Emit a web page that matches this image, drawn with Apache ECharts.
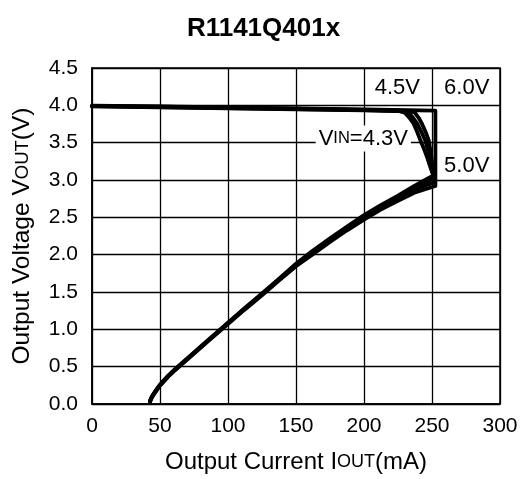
<!DOCTYPE html>
<html>
<head>
<meta charset="utf-8">
<script src="https://cdn.jsdelivr.net/npm/echarts@6/dist/echarts.min.js"></script>
<style>html,body{margin:0;padding:0;background:#fff}#c{width:527px;height:479px}</style>
</head>
<body>
<div id="c"></div>
<script>
// X ticks (mA) and Y ticks (V)
var xTicks = [0, 50, 100, 150, 200, 250, 300];
var yTicks = [0.0, 0.5, 1.0, 1.5, 2.0, 2.5, 3.0, 3.5, 4.0, 4.5];

// Curves: [Iout (mA), Vout (V)] in drawing order (flat -> drop -> fold back)
var vin43 = [[0,3.985],[50,3.973],[100,3.96],[150,3.947],[200,3.932],[226,3.922],
  [230,3.9],[233.5,3.83],[236.6,3.75],[239.2,3.64],[241.5,3.53],[244,3.42],[246.3,3.31],[248.3,3.2],[250,3.11],[251,3.06],
  [237,2.92],[225,2.79],[212,2.66],[200,2.53],[187,2.37],[175,2.22],[162,2.05],[150,1.88],[137,1.67],[125,1.48],
  [112,1.28],[100,1.09],[85,0.85],[75,0.69],[70,0.61],[65,0.53],[60,0.45],[56,0.38],[53,0.32],[50,0.26],
  [48,0.21],[46.5,0.17],[45,0.13],[44,0.1],[43,0.06],[42.5,0.02]];
var vin45 = [[0,3.989],[50,3.977],[100,3.964],[150,3.951],[200,3.936],[230,3.924],
  [233,3.9],[236.2,3.83],[239,3.76],[242.2,3.645],[245,3.53],[246.8,3.42],[248.3,3.31],[249.6,3.2],[250.5,3.1],[251.2,3.02],
  [237,2.9],[225,2.77],[212,2.64],[200,2.51],[187,2.36],[175,2.21],[162,2.04],[150,1.87],[137,1.665],[125,1.475],
  [112,1.275],[100,1.085],[85,0.845],[75,0.685],[70,0.605],[65,0.525],[60,0.445],[56,0.375],[53,0.315],[50,0.255],
  [48,0.205],[46.5,0.165],[45,0.125],[44,0.095],[43,0.055],[42.5,0.02]];
var vin50 = [[0,3.993],[50,3.981],[100,3.968],[150,3.955],[200,3.94],[234,3.926],
  [237.5,3.9],[240.3,3.83],[242.7,3.75],[245.4,3.64],[247.6,3.53],[248.6,3.42],[249.5,3.31],[250.3,3.2],[251,3.1],[251.8,2.97],
  [237,2.87],[225,2.75],[212,2.62],[200,2.49],[187,2.34],[175,2.19],[162,2.02],[150,1.855],[137,1.655],[125,1.465],
  [112,1.27],[100,1.08],[85,0.84],[75,0.68],[70,0.6],[65,0.52],[60,0.44],[56,0.37],[53,0.31],[50,0.25],
  [48,0.2],[46.5,0.16],[45,0.12],[44,0.09],[43,0.05],[42.5,0.02]];
var vin60 = [[0,3.997],[50,3.985],[100,3.972],[150,3.959],[200,3.944],[252.5,3.928],
  [252.5,2.92],
  [237,2.83],[225,2.72],[212,2.6],[200,2.47],[187,2.32],[175,2.17],[162,2.0],[150,1.845],[137,1.645],[125,1.455],
  [112,1.26],[100,1.07],[85,0.835],[75,0.675],[70,0.595],[65,0.515],[60,0.435],[56,0.365],[53,0.305],[50,0.245],
  [48,0.195],[46.5,0.155],[45,0.115],[44,0.085],[43,0.045],[42.5,0.02]];

// Annotation texts and anchor values
var labels = [
  {text: '4.5V', at: [224.5, 4.23]},
  {text: '6.0V', at: [275.5, 4.23]},
  {text: 'V{s|IN}=4.3V', at: [199.5, 3.555], bg: true},
  {text: '5.0V', at: [275.5, 3.19]}
];

var FONT = 'Liberation Sans, Arial, sans-serif';
var chart = echarts.init(document.getElementById('c'), null, {renderer: 'canvas'});

function curve(name, data, withLabels) {
  var s = {
    name: name, type: 'line', data: data, symbol: 'none', smooth: false,
    lineStyle: {color: '#000', width: 3.8, join: 'round', cap: 'round'},
    z: 3, animation: false
  };
  if (withLabels) {
    s.markPoint = {
      symbol: 'rect', symbolSize: 1,
      itemStyle: {color: 'rgba(0,0,0,0)'},
      data: labels.map(function (l) {
        return {
          coord: l.at,
          label: {
            show: true, position: 'inside', formatter: l.text,
            fontFamily: FONT, fontSize: 22, color: '#000',
            backgroundColor: l.bg ? '#fff' : 'transparent',
            padding: l.bg ? [2, 3, 2, 3] : 0,
            rich: {s: {fontFamily: FONT, fontSize: 16.5, color: '#000'}}
          }
        };
      }),
      z: 10, animation: false
    };
  }
  return s;
}

chart.setOption({
  backgroundColor: '#fff',
  animation: false,
  title: {
    text: 'R1141Q401x', left: 'center', top: 16, padding: 0,
    textStyle: {fontFamily: FONT, fontSize: 26, fontWeight: 'bold', color: '#000'}
  },
  grid: {left: 92, right: 27, top: 68, bottom: 73, show: true, borderColor: '#000', borderWidth: 1.5, containLabel: false},
  xAxis: {
    type: 'value', min: xTicks[0], max: xTicks[xTicks.length - 1], interval: 50,
    name: 'Output Current I{s|OUT}(mA)', nameLocation: 'middle', nameGap: 46,
    nameTextStyle: {fontFamily: FONT, fontSize: 24, color: '#000',
      rich: {s: {fontFamily: FONT, fontSize: 18, color: '#000'}}},
    axisLine: {show: true, lineStyle: {color: '#000', width: 1.5}},
    axisTick: {show: false},
    axisLabel: {fontFamily: FONT, fontSize: 21, color: '#000', margin: 12},
    splitLine: {show: true, lineStyle: {color: '#000', width: 1.3}}
  },
  yAxis: {
    type: 'value', min: yTicks[0], max: yTicks[yTicks.length - 1], interval: 0.5,
    name: 'Output Voltage V{s|OUT}(V)', nameLocation: 'middle', nameGap: 57,
    nameTextStyle: {fontFamily: FONT, fontSize: 24.5, color: '#000',
      rich: {s: {fontFamily: FONT, fontSize: 18.5, color: '#000'}}},
    axisLine: {show: true, lineStyle: {color: '#000', width: 1.5}},
    axisTick: {show: false},
    axisLabel: {fontFamily: FONT, fontSize: 21, color: '#000', margin: 14,
      formatter: function (v) { return v.toFixed(1); }},
    splitLine: {show: true, lineStyle: {color: '#000', width: 1.3}}
  },
  series: [
    curve('VIN=4.3V', vin43, true),
    curve('VIN=4.5V', vin45, false),
    curve('VIN=5.0V', vin50, false),
    curve('VIN=6.0V', vin60, false)
  ]
});
</script>
</body>
</html>
